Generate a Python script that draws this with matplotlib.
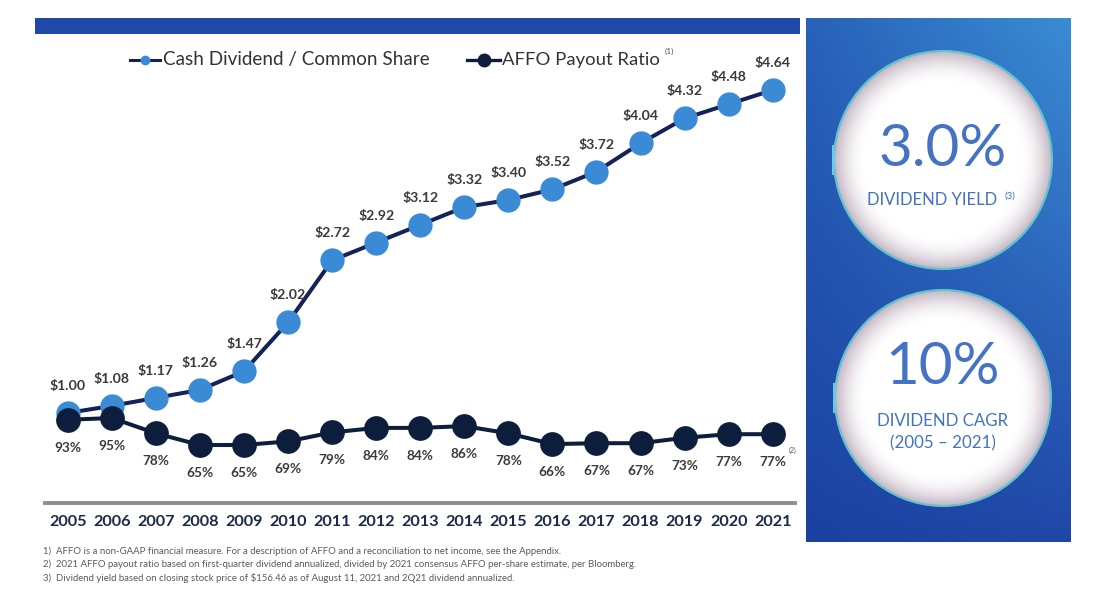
import numpy as np
import matplotlib
matplotlib.use("Agg")
import matplotlib.pyplot as plt
from matplotlib.patches import Rectangle, Circle
from matplotlib.colors import to_rgb

plt.rcParams['font.family'] = ['Lato', 'DejaVu Sans']

# ---------------- data ----------------
years = [2005, 2006, 2007, 2008, 2009, 2010, 2011, 2012, 2013, 2014, 2015,
         2016, 2017, 2018, 2019, 2020, 2021]
dividend = [1.00, 1.08, 1.17, 1.26, 1.47, 2.02, 2.72, 2.92, 3.12, 3.32, 3.40,
            3.52, 3.72, 4.04, 4.32, 4.48, 4.64]
payout = [93, 95, 78, 65, 65, 69, 79, 84, 84, 86, 78, 66, 67, 67, 73, 77, 77]
legend_labels = ["Cash Dividend / Common Share", "AFFO Payout Ratio"]
stat_values = ["3.0%", "10%"]
stat_labels = ["DIVIDEND YIELD", "DIVIDEND CAGR\n(2005 \u2013 2021)"]
footnotes = [
    "1)  AFFO is a non-GAAP financial measure. For a description of AFFO and a reconciliation to net income, see the Appendix.",
    "2)  2021 AFFO payout ratio based on first-quarter dividend annualized, divided by 2021 consensus AFFO per-share estimate, per Bloomberg.",
    "3)  Dividend yield based on closing stock price of $156.46 as of August 11, 2021 and 2Q21 dividend annualized.",
]

# ---------------- styles ----------------
W, H = 1109, 601
LIGHT = '#3B8AD6'
NAVY_LINE = '#132258'
DARK = '#0C1E3C'
LABEL = '#3a3a3a'
STAT_BLUE = '#4472C4'

fig = plt.figure(figsize=(W / 100, H / 100), dpi=100)
fig.patch.set_facecolor('white')

# overlay axes in pixel coordinates
ov = fig.add_axes([0, 0, 1, 1], zorder=0)
ov.set_xlim(0, W)
ov.set_ylim(H, 0)
ov.axis('off')

# top bar
ov.add_patch(Rectangle((35, 18), 765, 16, facecolor='#1F49A8', edgecolor='none'))

# right panel gradient
px0, px1, py0, py1 = 806, 1071, 18, 542
n = 200
u = np.linspace(0, 1, n)[None, :]      # left->right
v = np.linspace(0, 1, n)[:, None]      # top->bottom
tl, tr = np.array(to_rgb('#2861B9')), np.array(to_rgb('#3A8CD3'))
bl, br = np.array(to_rgb('#1B41A1')), np.array(to_rgb('#2047A8'))
img = ((1 - u)[..., None] * (1 - v)[..., None] * tl + u[..., None] * (1 - v)[..., None] * tr
       + (1 - u)[..., None] * v[..., None] * bl + u[..., None] * v[..., None] * br)
ov.imshow(img, extent=[px0, px1, py1, py0], aspect='auto', zorder=1, interpolation='bilinear')

# circles
def draw_circle(cx, cy, R):
    N = 500
    xs = np.linspace(-1, 1, N)
    X, Y = np.meshgrid(xs, xs)
    r = np.sqrt(X ** 2 + Y ** 2)
    t = np.clip((r - 0.72) / 0.28, 0, 1) ** 1.8
    white = np.array([1, 1, 1])
    edge = np.array(to_rgb('#c4b5c3'))
    rgb = white[None, None, :] * (1 - t[..., None]) + edge[None, None, :] * t[..., None]
    alpha = np.clip((1.0 - r) * N / 2, 0, 1)
    rgba = np.dstack([rgb, alpha])
    ov.imshow(rgba, extent=[cx - R, cx + R, cy + R, cy - R], aspect='auto', zorder=2,
              interpolation='bilinear')
    ov.add_patch(Circle((cx, cy), R, fill=False, edgecolor='#5fc4cf', lw=1.5, zorder=3))
    ov.add_patch(Rectangle((cx - R - 2.5, cy - 15), 3, 30, facecolor='#6cc8e3',
                           edgecolor='none', zorder=3))

draw_circle(943, 160, 109)
draw_circle(943, 398, 108)

ov.text(943, 150, stat_values[0], fontsize=42, color=STAT_BLUE, ha='center', va='center', zorder=4)
ov.text(932, 200, stat_labels[0], fontsize=12, color=STAT_BLUE, ha='center', va='center', zorder=4)
ov.text(1010, 196, "(3)", fontsize=7, color=STAT_BLUE, ha='center', va='center', zorder=4)
ov.text(943, 368, stat_values[1], fontsize=42, color=STAT_BLUE, ha='center', va='center', zorder=4)
ov.text(943, 432, stat_labels[1], fontsize=12.2, color=STAT_BLUE, ha='center', va='center',
        linespacing=1.45, zorder=4)

# legend (manual)
ov.plot([130, 160], [60, 60], color=NAVY_LINE, lw=2.2, zorder=4)
ov.plot([145], [60], 'o', color=LIGHT, ms=6, zorder=5)
ov.text(163, 60, legend_labels[0], fontsize=13.6, color='#333333', va='center', ha='left', zorder=4)
ov.plot([467, 500], [60, 60], color=DARK, lw=2.4, zorder=4)
ov.plot([484], [60], 'o', color=DARK, ms=9, zorder=5)
ov.text(502, 60, legend_labels[1], fontsize=13.3, color='#333333', va='center', ha='left', zorder=4)
ov.text(669, 51, "(1)", fontsize=6, color='#555555', va='center', ha='center', zorder=4)

# footnotes
for i, fn in enumerate(footnotes):
    ov.text(43, 551 + 13.5 * i, fn, fontsize=6.9, color='#5a5a5a', va='center', ha='left', zorder=4)

# ---------------- chart ----------------
L, R_, T, B = 45, 795, 40, 503
ax = fig.add_axes([L / W, 1 - B / H, (R_ - L) / W, (B - T) / H], zorder=5)
ax.patch.set_alpha(0)
ax2 = ax.twinx()
ax2.patch.set_alpha(0)

ax.set_xlim(2004.485, 2021.506)
ax.set_ylim(-0.0147, 5.2037)
ax2.set_ylim(0.556, 515)

ax.plot(years, dividend, color=NAVY_LINE, lw=2.9, marker='o', ms=16.5,
        markerfacecolor=LIGHT, markeredgecolor=LIGHT, zorder=3)
ax2.plot(years, payout, color=DARK, lw=2.9, marker='o', ms=16.8,
         markerfacecolor=DARK, markeredgecolor=DARK, zorder=3)

for x, y in zip(years, dividend):
    ax.annotate(f"${y:.2f}", (x, y), xytext=(0, 19.5), textcoords='offset points',
                ha='center', va='center', fontsize=10.2, fontweight='bold', color=LABEL)
for x, y in zip(years, payout):
    ax2.annotate(f"{y}%", (x, y), xytext=(0, -20), textcoords='offset points',
                 ha='center', va='center', fontsize=9.8, fontweight='bold', color=LABEL)
ax2.annotate("(2)", (years[-1], payout[-1]), xytext=(14.5, -12), textcoords='offset points',
             ha='center', va='center', fontsize=5, color='#555555')

ax.set_xticks(years)
ax.set_xticklabels([str(y) for y in years], fontsize=11.7, fontweight='bold', color='#1B2A47')
ax.tick_params(axis='x', length=0, pad=9)
ax.set_yticks([])
ax2.set_yticks([])
for s in ['top', 'left', 'right']:
    ax.spines[s].set_visible(False)
for s in ['top', 'left', 'right', 'bottom']:
    ax2.spines[s].set_visible(False)
ax.spines['bottom'].set_color('#8c8c8c')
ax.spines['bottom'].set_linewidth(2.8)

fig.savefig('out.png', dpi=100, facecolor='white')
